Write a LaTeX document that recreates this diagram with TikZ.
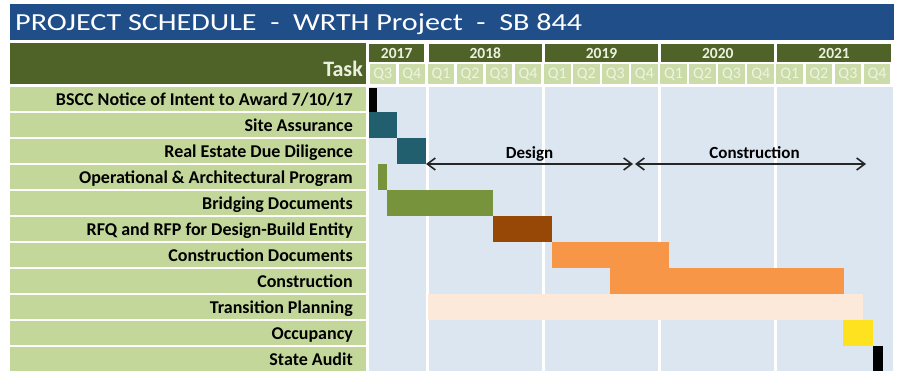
\documentclass[tikz,border=0pt]{standalone}
\usepackage{fontspec}
\setmainfont{Carlito}
\usetikzlibrary{arrows.meta}
\definecolor{bleutitre}{HTML}{1F4E89}
\definecolor{olive}{HTML}{4F6228}
\definecolor{vertclair}{HTML}{C4D79B}
\definecolor{vertq}{HTML}{CCDCA9}
\definecolor{texteq}{HTML}{EEF3E2}
\definecolor{texteclair}{HTML}{EBF1DE}
\definecolor{fond}{HTML}{DCE6F1}
\definecolor{canard}{HTML}{215E6E}
\definecolor{vertbarre}{HTML}{77933C}
\definecolor{brun}{HTML}{974706}
\definecolor{orangebarre}{HTML}{F79646}
\definecolor{peche}{HTML}{FDE9D9}
\definecolor{jaune}{HTML}{FFE21F}
\definecolor{noirfleche}{HTML}{262626}
\begin{document}
\begin{tikzpicture}[x=1pt,y=-1pt,
  tache/.style={anchor=base east,inner sep=0pt,font=\bfseries\fontsize{18}{18}\selectfont},
  annee/.style={fill=olive,text=texteclair,inner sep=0pt,minimum height=18pt,font=\bfseries\fontsize{15.5}{16}\selectfont},
  trimestre/.style={fill=vertq,text=texteq,inner sep=0pt,minimum width=26.6pt,minimum height=20pt,font=\fontsize{16}{16}\selectfont},
  phase/.style={anchor=base,inner sep=0pt,font=\bfseries\fontsize{17}{17}\selectfont},
  fleche/.style={noirfleche,line width=1.6pt,{Straight Barb[length=8pt,width=12pt]}-{Straight Barb[length=8pt,width=12pt]}}]
\useasboundingbox (0,0) rectangle (897,371);
% bandeau du titre
\fill[bleutitre] (10,4) rectangle (893.5,40);
\node[anchor=base west,inner sep=0pt,text=white,font=\fontsize{24.5}{24.5}\selectfont] (titre) at (15,30.5)
  {\scalebox{1.23}[1]{PROJECT SCHEDULE\ \ -\ \ WRTH Project\ \ -\ \ SB 844}};
% en-tete : colonne des taches, annees et trimestres
\fill[olive] (10,43) rectangle (365.5,84);
\node[anchor=base east,inner sep=0pt,text=texteclair,font=\bfseries\fontsize{22}{22}\selectfont] (task) at (363,77) {Task};
\node[annee,minimum width=55.5pt] (a2017) at (396.7,53) {2017};
\foreach \a [count=\k from 0] in {2018,2019,2020,2021}
  \node[annee,minimum width=113.3pt] (a\a) at ({369+29.07*(4+4*\k)},53) {\a};
\foreach \k in {0,...,17}{
  \pgfmathtruncatemacro\nq{mod(\k+2,4)+1}
  \node[trimestre] (q\k) at ({369+29.07*\k+13.8},74) {Q\nq};
}
% fond du diagramme et separations des annees
\fill[fond] (369,87) rectangle (892.5,371);
\foreach \k in {2,6,10,14}
  \draw[white,line width=3pt] ({369+29.07*\k},87) -- ({369+29.07*\k},371);
% lignes des taches
\foreach \t [count=\i from 0] in {BSCC Notice of Intent to Award 7/10/17,Site Assurance,Real Estate Due Diligence,
    Operational \& Architectural Program,Bridging Documents,RFQ and RFP for Design-Build Entity,
    Construction Documents,Construction,Transition Planning,Occupancy,State Audit}{
  \fill[vertclair] (10,{87.5+26*\i}) rectangle (365.5,{111+26*\i});
  \node[tache] (t\i) at (353,{106+26*\i}) {\t};
}
% barres
\fill[black] (369,88) rectangle (377,112.5);
\fill[canard] (369,112.5) rectangle (397,138.5);
\fill[canard] (397,138.5) rectangle (426,164.5);
\fill[vertbarre] (377.5,164.5) rectangle (386.5,190.5);
\fill[vertbarre] (386.5,190.5) rectangle (493,216.5);
\fill[brun] (493,216.5) rectangle (552,242.5);
\fill[orangebarre] (552,242.5) rectangle (669,268.5);
\fill[orangebarre] (610,268.5) rectangle (844,294.5);
\fill[peche] (427.5,294.5) rectangle (863,320.5);
\fill[jaune] (843,320.5) rectangle (873,346.5);
\fill[black] (873,346.5) rectangle (882.5,371);
% phases Design et Construction
\coordinate (dg) at (426,164);
\coordinate (dd) at (633,164);
\coordinate (cg) at (635,164);
\coordinate (cd) at (866,164);
\draw[fleche] (dg) -- (dd);
\draw[fleche] (cg) -- (cd);
\node[phase] (design) at (529.5,159) {Design};
\node[phase] (constr) at (754.5,159) {Construction};
\end{tikzpicture}
\end{document}
